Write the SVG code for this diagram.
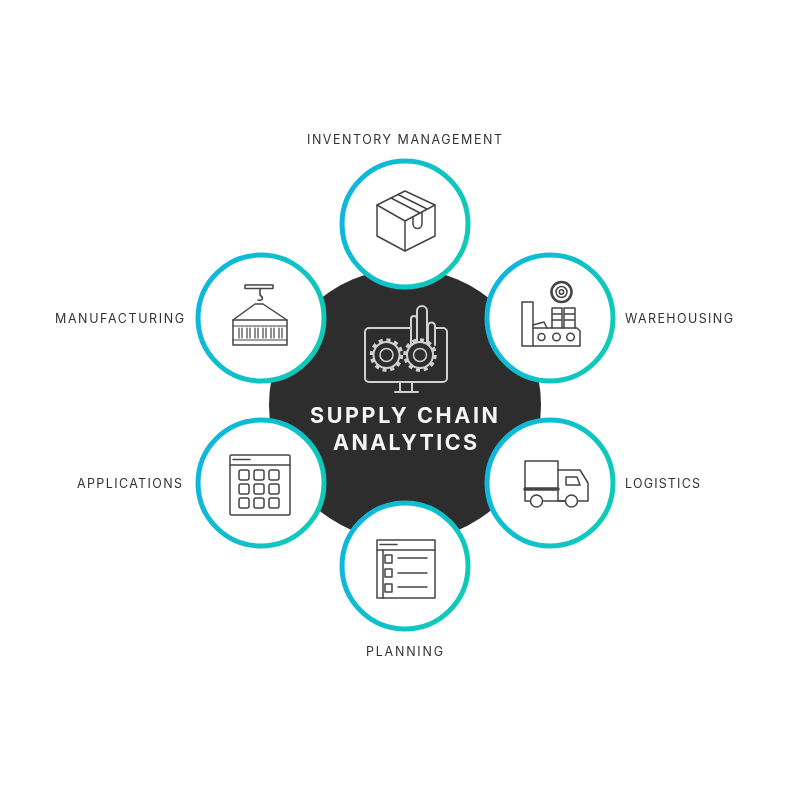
<svg xmlns="http://www.w3.org/2000/svg" width="800" height="800" viewBox="0 0 800 800">
<style>
.ring{fill:#fff;stroke:url(#ringGrad);stroke-width:5}
.ic{fill:none;stroke:#444;stroke-width:1.5;stroke-linejoin:round;stroke-linecap:round}
.lt{fill:none;stroke:#d0d0d0;stroke-width:2;stroke-linejoin:round;stroke-linecap:round}
.lab{font-family:"Inter","Liberation Sans",sans-serif;font-size:12.5px;fill:#333}
.ttl{font-family:"Inter","Liberation Sans",sans-serif;font-size:21.5px;font-weight:700;fill:#f4f4f4}
.gr{fill:#2e2d2e}
</style>
<defs>
<linearGradient id="ringGrad" x1="0" y1="0.3" x2="1" y2="0.7">
<stop offset="0" stop-color="#0fb6de"/><stop offset="1" stop-color="#0fcbb6"/>
</linearGradient>
<filter id="soft" x="-5%" y="-5%" width="110%" height="110%"><feGaussianBlur stdDeviation="0.7"/></filter>
</defs>
<rect width="800" height="800" fill="#fff"/>

<g id="hub">
<circle cx="405" cy="405" r="136" fill="#2e2d2e"/>
<g class="lt" filter="url(#soft)">
<path d="M410 328H369a4 4 0 0 0-4 4V378a4 4 0 0 0 4 4H443a4 4 0 0 0 4-4V332a4 4 0 0 0-4-4H436"/>
<path d="M400 382V391M412 382V391M395 392H418"/>
<path d="M411 345V319a3 3 0 0 1 6 0V345M417 345V311a4.500 4.500 0 0 1 10 0V345M428 345V326a3.500 3.500 0 0 1 7 0V345"/>
<circle class="gr" cx="386.500" cy="355" r="13"/>
<circle cx="386.500" cy="355" r="15" stroke-width="3.500" stroke-dasharray="4 3.800" stroke-linecap="butt"/>
<circle cx="386.500" cy="355" r="6.500" stroke-width="1.500"/>
<circle class="gr" cx="420" cy="355" r="13"/>
<circle cx="420" cy="355" r="15" stroke-width="3.500" stroke-dasharray="4 3.800" stroke-linecap="butt"/>
<circle cx="420" cy="355" r="6.500" stroke-width="1.500"/>
</g>
<g filter="url(#soft)">
<text class="ttl" x="310" y="423" textLength="188" lengthAdjust="spacing">SUPPLY CHAIN</text>
<text class="ttl" x="333" y="450" textLength="144" lengthAdjust="spacing">ANALYTICS</text>
</g>
</g>

<g id="inventory">
<circle class="ring" cx="405" cy="224" r="63"/>
<g class="ic" filter="url(#soft)">
<path d="M405 191L435 205V236L405 251L377 236V205Z"/>
<path d="M377 205L405 221L435 205M405 221V251"/>
<path d="M391 198L420 213M398 194.500L427 209"/>
<path d="M413 217V224a4.300 4.300 0 0 0 9 0V212.500"/>
</g>
<text class="lab" x="307" y="144" textLength="195" lengthAdjust="spacing" filter="url(#soft)">INVENTORY MANAGEMENT</text>
</g>

<g id="warehousing">
<circle class="ring" cx="550" cy="318" r="63"/>
<g class="ic" filter="url(#soft)">
<rect x="522" y="302" width="11" height="44"/>
<path d="M533 346H580V331L577 328H533"/>
<path d="M533 325L544 322L547 328"/>
<circle cx="541.500" cy="337" r="3.500"/><circle cx="556.500" cy="337" r="3.800"/><circle cx="570.500" cy="337" r="3.800"/>
<path d="M552 328V308H562V328M552 314H562M552 320H562M564 328V308H575V328M564 314H575M564 320H575"/>
<circle cx="561.500" cy="292" r="10" stroke-width="2.600"/>
<circle cx="561.500" cy="292" r="5.500"/><circle cx="561.500" cy="292" r="2.200"/>
</g>
<text class="lab" x="625" y="323" textLength="108" lengthAdjust="spacing" filter="url(#soft)">WAREHOUSING</text>
</g>

<g id="logistics">
<circle class="ring" cx="550" cy="483" r="63"/>
<g class="ic" filter="url(#soft)">
<path d="M530 501H525V461H558V501H565"/>
<path d="M525 489H558" stroke-width="3.500"/>
<path d="M558 470H580L588 483V501H578"/>
<path d="M566 477H577L580 485H566Z"/>
<path d="M543 501H565"/>
<circle cx="536.500" cy="501" r="6"/><circle cx="571.500" cy="501" r="6"/>
</g>
<text class="lab" x="625" y="488" textLength="75" lengthAdjust="spacing" filter="url(#soft)">LOGISTICS</text>
</g>

<g id="planning">
<circle class="ring" cx="405" cy="566" r="63"/>
<g class="ic" filter="url(#soft)">
<rect x="377" y="540" width="58" height="58"/>
<path d="M377 550H435M380 544.500H397M383 550V598"/>
<rect x="385" y="555" width="7" height="8"/><rect x="385" y="569" width="7" height="8"/><rect x="385" y="584" width="7" height="8"/>
<path d="M398 558H427M398 573H427M398 587H427"/>
</g>
<text class="lab" x="366" y="656" textLength="77" lengthAdjust="spacing" filter="url(#soft)">PLANNING</text>
</g>

<g id="applications">
<circle class="ring" cx="261" cy="483" r="63"/>
<g class="ic" filter="url(#soft)">
<rect x="230" y="455" width="60" height="60" rx="1.500"/>
<path d="M230 465H290M233 459.500H250"/>
<rect x="239" y="470" width="10" height="10" rx="2"/><rect x="254" y="470" width="10" height="10" rx="2"/><rect x="269" y="470" width="10" height="10" rx="2"/>
<rect x="239" y="484" width="10" height="10" rx="2"/><rect x="254" y="484" width="10" height="10" rx="2"/><rect x="269" y="484" width="10" height="10" rx="2"/>
<rect x="239" y="498" width="10" height="10" rx="2"/><rect x="254" y="498" width="10" height="10" rx="2"/><rect x="269" y="498" width="10" height="10" rx="2"/>
</g>
<text class="lab" x="77" y="488" textLength="105" lengthAdjust="spacing" filter="url(#soft)">APPLICATIONS</text>
</g>

<g id="manufacturing">
<circle class="ring" cx="261" cy="318" r="63"/>
<g class="ic" filter="url(#soft)">
<path d="M245 285H273V288.500H245Z"/>
<path d="M260 288.500V295C264 298 263 301 258 300" stroke-width="1.600"/>
<path d="M233 320L255 304H263L287 320"/>
<rect x="233" y="320" width="54" height="25"/>
<path d="M233 326H287M233 340H287" stroke-width="1"/>
<path d="M239 328V338M242 328V338M247 328V338M250 328V338M255 328V338M258 328V338M263 328V338M266 328V338M271 328V338M274 328V338M279 328V338M282 328V338" stroke-width="1.200"/>
</g>
<text class="lab" x="55" y="323" textLength="129" lengthAdjust="spacing" filter="url(#soft)">MANUFACTURING</text>
</g>
</svg>
